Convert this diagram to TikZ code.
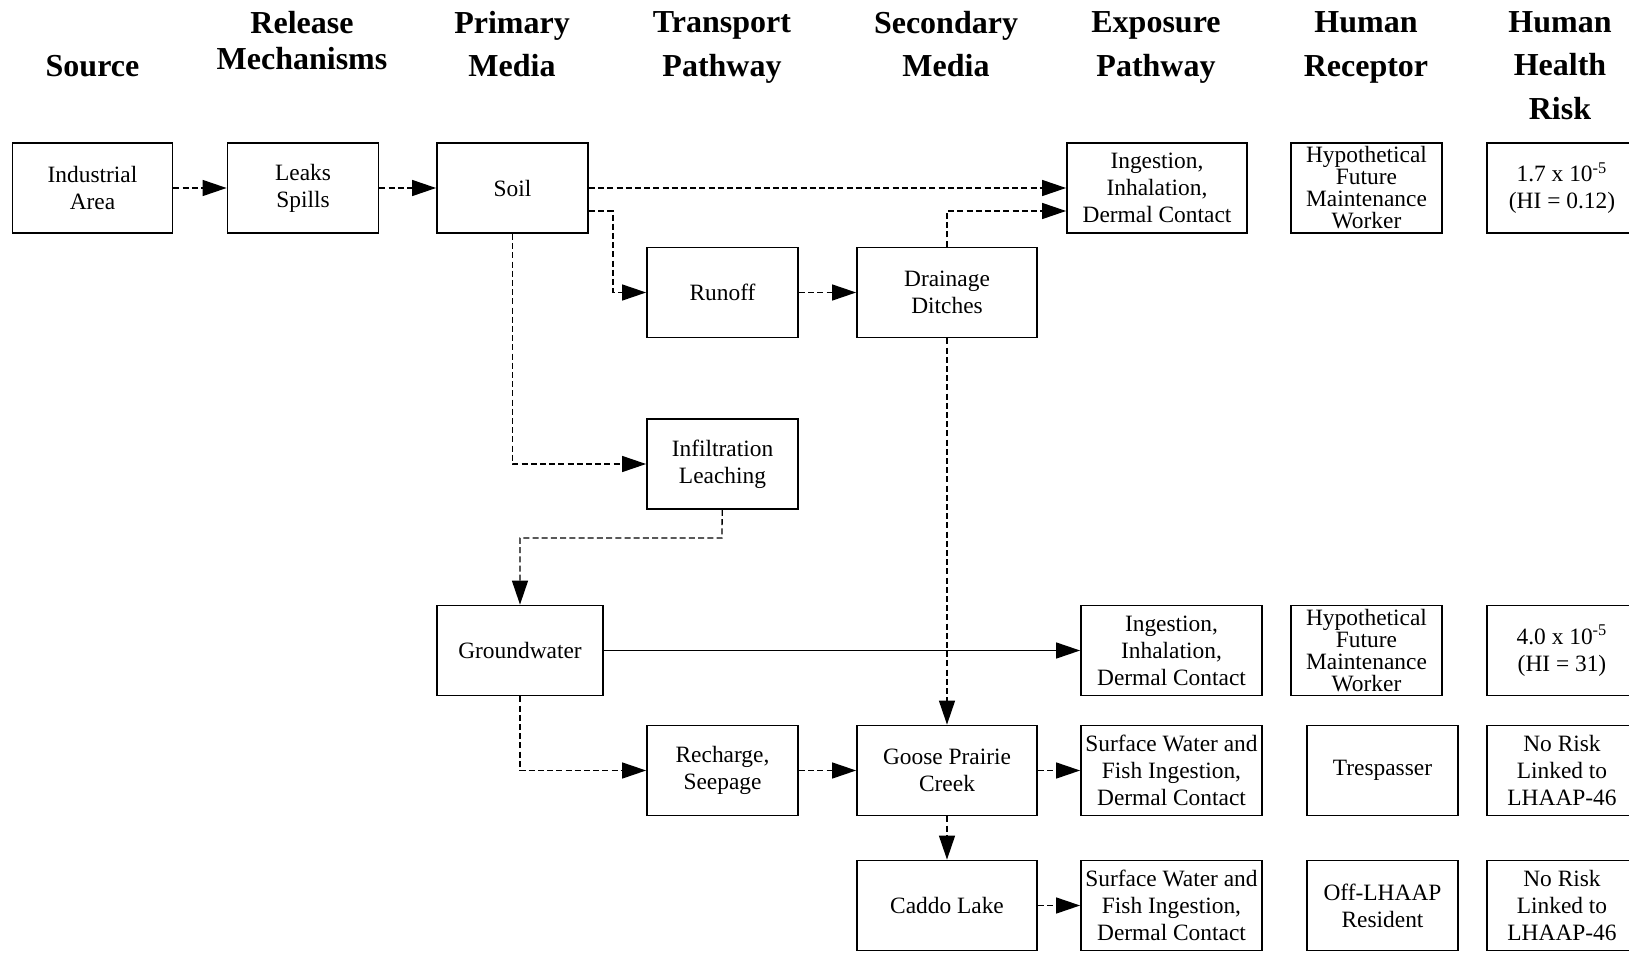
\documentclass[tikz,border=0pt]{standalone}
\usepackage{fontspec}
\setmainfont{Liberation Serif}
\usepackage{tikz}
\usetikzlibrary{arrows.meta}

\begin{document}
\begin{tikzpicture}[x=0.5pt,y=-0.5pt]
		\tikzset{> = {Triangle[length=12pt,width=8pt]}}
		\tikzset{box/.style = {draw,line width=0.9pt,minimum height=45pt,inner sep=0pt,align=center,font=\fontsize{11.7}{13.5}\selectfont},
			tight/.style = {font=\fontsize{11.7}{11}\selectfont},
			head/.style = {align=center,text depth=0pt,font=\fontsize{16}{21.8}\selectfont\bfseries},
			flow/.style = {->,line width=0.65pt,dash pattern=on 3pt off 1.6pt}}
		\useasboundingbox (0,0) rectangle (1629,953);
		% column heads
		\node[head] (hsrc) at (92.5,65.5) {Source};
		\node[head,font=\fontsize{16}{18}\selectfont\bfseries] (hrel) at (302,40) {Release\\Mechanisms};
		\node[head] (hpri) at (512,43.75) {Primary\\Media};
		\node[head] (htra) at (722,43.75) {Transport\\Pathway};
		\node[head] (hsec) at (946,43.75) {Secondary\\Media};
		\node[head] (hexp) at (1156,43.75) {Exposure\\Pathway};
		\node[head] (hrec) at (1366,43.75) {Human\\Receptor};
		\node[head] (hrisk) at (1560,65.5) {Human\\Health\\Risk};
		% boxes
		\node[box,minimum width=80pt] (ind) at (92.5,188) {Industrial\\Area};
		\node[box,minimum width=75.5pt] (leak) at (303,188) {Leaks\\Spills};
		\node[box,minimum width=75.5pt] (soil) at (512.5,188) {Soil};
		\node[box,minimum width=90pt] (ing1) at (1157,188) {Ingestion,\\Inhalation,\\Dermal Contact};
		\node[box,tight,minimum width=75.5pt] (rec1) at (1366.5,188) {Hypothetical\\Future\\Maintenance\\Worker};
		\node[box,minimum width=75pt] (risk1) at (1562,188) {1.7 x 10\textsuperscript{-5}\\(HI = 0.12)};
		\node[box,minimum width=75.5pt] (runoff) at (722.5,292.5) {Runoff};
		\node[box,minimum width=90pt] (drain) at (947,292.5) {Drainage\\Ditches};
		\node[box,minimum width=75.5pt] (infil) at (722.5,464) {Infiltration\\Leaching};
		\node[box,minimum width=83pt] (gw) at (520,650.5) {Groundwater};
		\node[box,minimum width=90.5pt] (ing2) at (1171.5,650.5) {Ingestion,\\Inhalation,\\Dermal Contact};
		\node[box,tight,minimum width=75.5pt] (rec2) at (1366.5,650.5) {Hypothetical\\Future\\Maintenance\\Worker};
		\node[box,minimum width=75pt] (risk2) at (1562,650.5) {4.0 x 10\textsuperscript{-5}\\(HI = 31)};
		\node[box,minimum width=75.5pt] (rech) at (722.5,770.5) {Recharge,\\Seepage};
		\node[box,minimum width=90pt] (goose) at (947,770.5) {Goose Prairie\\Creek};
		\node[box,minimum width=90.5pt] (surf1) at (1171.5,770.5) {Surface Water and\\Fish Ingestion,\\Dermal Contact};
		\node[box,minimum width=75.5pt] (tres) at (1382.5,770.5) {Trespasser};
		\node[box,minimum width=75pt] (risk3) at (1562,770.5) {No Risk\\Linked to\\LHAAP-46};
		\node[box,minimum width=90pt] (caddo) at (947,905.5) {Caddo Lake};
		\node[box,minimum width=90.5pt] (surf2) at (1171.5,905.5) {Surface Water and\\Fish Ingestion,\\Dermal Contact};
		\node[box,minimum width=75.5pt] (res) at (1382.5,905.5) {Off-LHAAP\\Resident};
		\node[box,minimum width=75pt] (risk4) at (1562,905.5) {No Risk\\Linked to\\LHAAP-46};
		% bends
		\coordinate (sr) at (613,211);
		\coordinate (ig) at (722,538);
		% connectors
		\draw[flow] (ind) -- (leak);
		\draw[flow] (leak) -- (soil);
		\draw[flow] (soil) -- (ing1);
		\draw[flow] (soil.east |- sr) -- (sr) |- (runoff);
		\draw[flow] (runoff) -- (drain);
		\draw[flow] (drain) |- (ing1.west |- sr);
		\draw[flow] (soil) |- (infil);
		\draw[flow] (infil) -- (ig) -| (gw);
		\draw[->,line width=0.65pt] (gw) -- (ing2);
		\draw[flow] (drain) -- (goose);
		\draw[flow] (gw) |- (rech);
		\draw[flow] (rech) -- (goose);
		\draw[flow] (goose) -- (surf1);
		\draw[flow] (goose) -- (caddo);
		\draw[flow] (caddo) -- (surf2);
	\end{tikzpicture}
\end{document}
